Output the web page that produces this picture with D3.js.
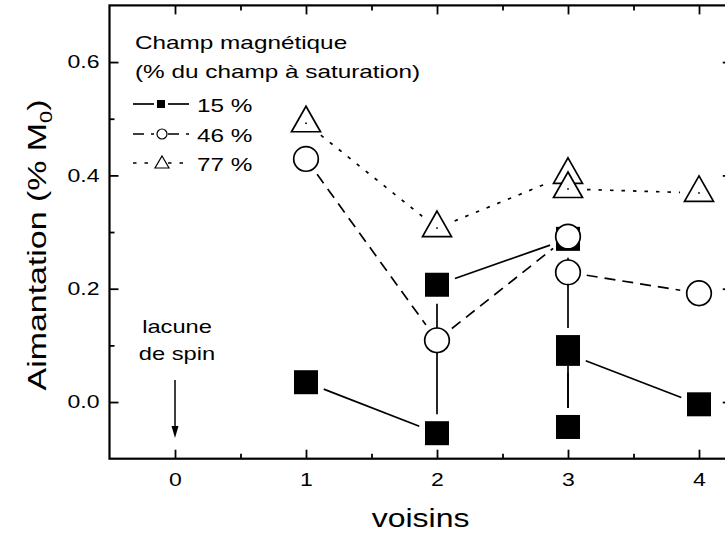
<!DOCTYPE html>
<html>
<head>
<meta charset="utf-8">
<script src="https://cdn.jsdelivr.net/npm/d3@7"></script>
<style>
  html, body { margin: 0; padding: 0; background: #fff; }
  svg { display: block; }
  text { font-family: "Liberation Sans", Arial, Helvetica, sans-serif; fill: #000; }
</style>
</head>
<body>
<script>
// ---- data ----
const xTickValues = [0, 1, 2, 3, 4];
const xMinorTicks = [0.5, 1.5, 2.5, 3.5];
const yTickValues = [0.0, 0.2, 0.4, 0.6];
const yMinorTicks = [0.1, 0.3, 0.5];
const yTickLabels = ["0.0", "0.2", "0.4", "0.6"];

const seriesNames = ["15 %", "46 %", "77 %"];
const x15 = [1, 2, 2, 3, 3, 3, 3, 4];
const y15 = [0.035, -0.055, 0.207, 0.288, 0.097, -0.044, 0.085, -0.004];
const x46 = [1, 2, 3, 3, 4];
const y46 = [0.429, 0.109, 0.292, 0.229, 0.192];
const x77 = [1, 2, 3, 3, 4];
const y77 = [0.492, 0.307, 0.401, 0.376, 0.369];

const legendTitle = ["Champ magnétique", "(% du champ à saturation)"];
const annotation = ["lacune", "de spin"];
const annotationX = 0;

// ---- setup ----
const W = 725, H = 536;
const SX = 1.28; // horizontal glyph stretch of the original font
const svg = d3.select("body").append("svg").attr("width", W).attr("height", H);

const x = d3.scaleLinear().domain([-0.5, 4.25]).range([109.5, 731.75]);
const y = d3.scaleLinear().domain([-0.1, 0.7]).range([458.7, 5.4]);

const pLeft = x.range()[0], pRight = x.range()[1];
const pTop = y.range()[1], pBottom = y.range()[0];

// axes (inward ticks)
function styleAxis(g) {
  g.select(".domain").remove();
  g.selectAll(".tick line").attr("stroke", "#000").attr("stroke-width", 1.8);
}
// bottom major
svg.append("g").attr("transform", `translate(0,${pBottom})`)
  .call(d3.axisBottom(x).tickValues(xTickValues).tickSize(-9).tickPadding(15).tickFormat(d3.format("d")))
  .call(styleAxis)
  .call(g => g.selectAll("text").attr("font-size", 18)
      .attr("font-family", "Liberation Sans, Arial, sans-serif")
      .attr("transform", `scale(${SX},1)`));
svg.append("g").attr("transform", `translate(0,${pBottom})`)
  .call(d3.axisBottom(x).tickValues(xMinorTicks).tickSize(-5).tickFormat(""))
  .call(styleAxis);
// top
svg.append("g").attr("transform", `translate(0,${pTop})`)
  .call(d3.axisTop(x).tickValues(xTickValues).tickSize(-9).tickFormat(""))
  .call(styleAxis);
svg.append("g").attr("transform", `translate(0,${pTop})`)
  .call(d3.axisTop(x).tickValues(xMinorTicks).tickSize(-5).tickFormat(""))
  .call(styleAxis);
// left
svg.append("g").attr("transform", `translate(${pLeft},0)`)
  .call(d3.axisLeft(y).tickValues(yTickValues).tickSize(-9).tickPadding(0)
        .tickFormat((d, i) => yTickLabels[i]))
  .call(styleAxis)
  .call(g => g.selectAll("text").attr("font-size", 18)
      .attr("font-family", "Liberation Sans, Arial, sans-serif")
      .attr("x", -10 / SX)
      .attr("transform", `scale(${SX},1)`));
svg.append("g").attr("transform", `translate(${pLeft},0)`)
  .call(d3.axisLeft(y).tickValues(yMinorTicks).tickSize(-5).tickFormat(""))
  .call(styleAxis);
// right
svg.append("g").attr("transform", `translate(${pRight},0)`)
  .call(d3.axisRight(y).tickValues(yTickValues).tickSize(-9).tickFormat(""))
  .call(styleAxis);
svg.append("g").attr("transform", `translate(${pRight},0)`)
  .call(d3.axisRight(y).tickValues(yMinorTicks).tickSize(-5).tickFormat(""))
  .call(styleAxis);

// frame
svg.append("rect").attr("x", pLeft).attr("y", pTop)
  .attr("width", pRight - pLeft).attr("height", pBottom - pTop)
  .attr("fill", "none").attr("stroke", "#000").attr("stroke-width", 2.2);

// axis titles
svg.append("text")
  .attr("transform", `translate(${(pLeft + pRight) / 2},527) scale(${SX},1)`)
  .attr("text-anchor", "middle").attr("font-size", 25).text("voisins");

const yt = svg.append("text")
  .attr("transform", `translate(46,${245}) rotate(-90) scale(${SX},1)`)
  .attr("text-anchor", "middle").attr("font-size", 26.5);
yt.append("tspan").text("Aimantation (% M");
yt.append("tspan").attr("font-size", 17).attr("dy", 6).text("0");
yt.append("tspan").attr("dy", -6).text(")");

// ---- series lines with gaps around markers ----
const GAP = 19;
function gappedSegments(xs, ys) {
  const segs = [];
  for (let i = 0; i < xs.length - 1; i++) {
    const x1 = x(xs[i]), y1 = y(ys[i]), x2 = x(xs[i + 1]), y2 = y(ys[i + 1]);
    const dx = x2 - x1, dy = y2 - y1, L = Math.hypot(dx, dy);
    if (L <= 2 * GAP) continue;
    const ux = dx / L, uy = dy / L;
    segs.push([x1 + ux * GAP, y1 + uy * GAP, x2 - ux * GAP, y2 - uy * GAP]);
  }
  return segs;
}
const styles = [
  { xs: x15, ys: y15, dash: null },
  { xs: x46, ys: y46, dash: "11,7" },
  { xs: x77, ys: y77, dash: "3.5,8" }
];
styles.forEach(s => {
  svg.append("g").selectAll("line").data(gappedSegments(s.xs, s.ys)).join("line")
    .attr("x1", d => d[0]).attr("y1", d => d[1]).attr("x2", d => d[2]).attr("y2", d => d[3])
    .attr("stroke", "#000").attr("stroke-width", 1.7)
    .attr("stroke-dasharray", s.dash);
});

// ---- markers ----
function triPath(w, h) { // centroid at 0
  return `M0,${-2 * h / 3}L${w / 2},${h / 3}L${-w / 2},${h / 3}Z`;
}
svg.append("g").selectAll("rect").data(d3.range(x15.length)).join("rect")
  .attr("x", i => x(x15[i]) - 12).attr("y", i => y(y15[i]) - 12)
  .attr("width", 24).attr("height", 24).attr("fill", "#000");
svg.append("g").selectAll("circle").data(d3.range(x46.length)).join("circle")
  .attr("cx", i => x(x46[i])).attr("cy", i => y(y46[i])).attr("r", 12.3)
  .attr("fill", "#fff").attr("stroke", "#000").attr("stroke-width", 1.7);
const tg = svg.append("g").selectAll("g").data(d3.range(x77.length)).join("g")
  .attr("transform", i => `translate(${x(x77[i])},${y(y77[i])})`);
tg.append("path").attr("d", triPath(29, 25.5)).attr("fill", "#fff")
  .attr("stroke", "#000").attr("stroke-width", 1.7).attr("stroke-linejoin", "miter");
tg.append("rect").attr("x", -0.8).attr("y", -0.8).attr("width", 1.6).attr("height", 1.6).attr("fill", "#000");

// ---- legend ----
svg.append("text").attr("transform", `translate(135,49) scale(${SX},1)`)
  .attr("font-size", 19).text(legendTitle[0]);
svg.append("text").attr("transform", `translate(135,78) scale(${SX},1)`)
  .attr("font-size", 19).text(legendTitle[1]);
const legY = [104, 134, 163];
styles.forEach((s, i) => {
  const g = svg.append("g").attr("transform", `translate(0,${legY[i]})`);
  [[133, 154], [168, 189]].forEach(([a, b]) => {
    g.append("line").attr("x1", a).attr("x2", b).attr("y1", 0).attr("y2", 0)
      .attr("stroke", "#000").attr("stroke-width", 1.7).attr("stroke-dasharray", s.dash);
  });
  if (i === 0) g.append("rect").attr("x", 157).attr("y", -4).attr("width", 8).attr("height", 8).attr("fill", "#000");
  if (i === 1) g.append("circle").attr("cx", 162).attr("cy", 0).attr("r", 5).attr("fill", "#fff")
    .attr("stroke", "#000").attr("stroke-width", 1.2);
  if (i === 2) g.append("path").attr("transform", "translate(162,1)").attr("d", triPath(14, 12))
    .attr("fill", "#fff").attr("stroke", "#000").attr("stroke-width", 1.2);
  g.append("text").attr("transform", `translate(197,7.5) scale(${SX},1)`)
    .attr("font-size", 19).text(seriesNames[i]);
});

// ---- annotation ----
svg.append("text").attr("transform", `translate(${x(annotationX) + 2},333) scale(${SX},1)`)
  .attr("text-anchor", "middle").attr("font-size", 18.5).text(annotation[0]);
svg.append("text").attr("transform", `translate(${x(annotationX) + 2},360) scale(${SX},1)`)
  .attr("text-anchor", "middle").attr("font-size", 18.5).text(annotation[1]);
svg.append("line").attr("x1", x(annotationX)).attr("x2", x(annotationX))
  .attr("y1", 380).attr("y2", 428).attr("stroke", "#000").attr("stroke-width", 1.5);
svg.append("path")
  .attr("d", `M${x(annotationX) - 3.5},426L${x(annotationX) + 3.5},426L${x(annotationX)},438Z`)
  .attr("fill", "#000");
</script>
</body>
</html>
